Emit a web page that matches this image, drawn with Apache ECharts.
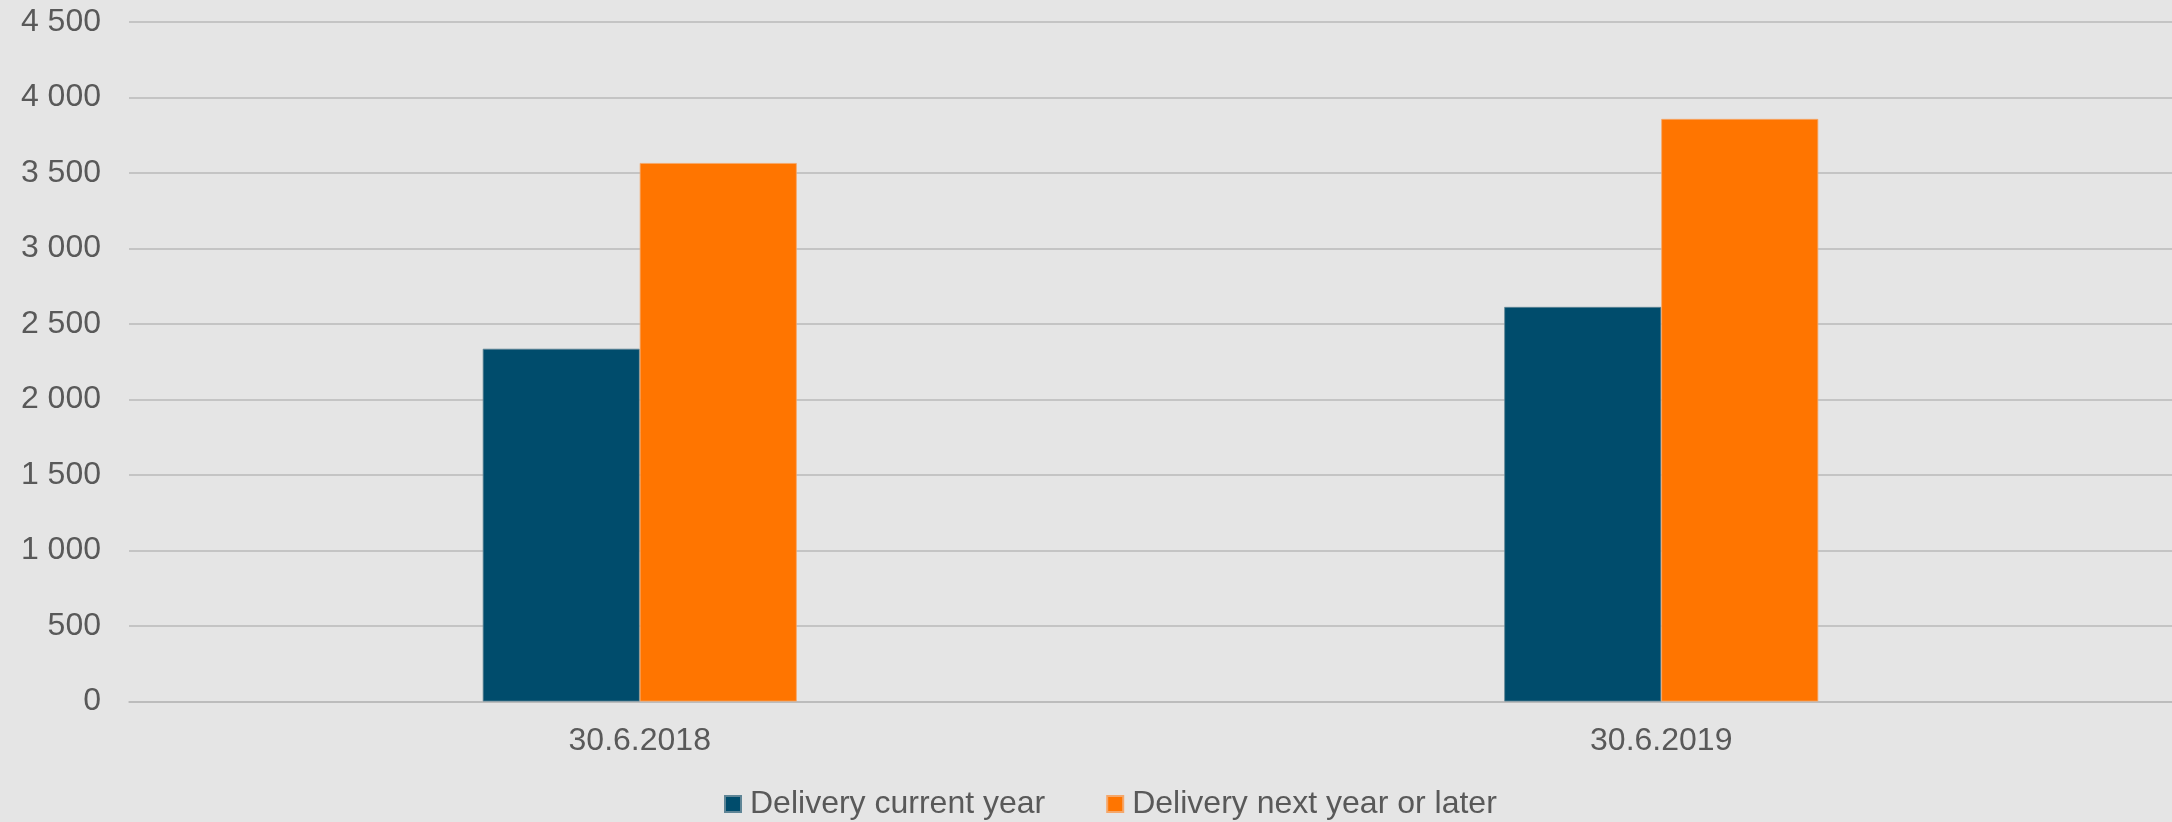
<!DOCTYPE html>
<html>
<head>
<meta charset="utf-8">
<script src="https://cdn.jsdelivr.net/npm/echarts@6/dist/echarts.min.js"></script>
<style>
  html, body { margin: 0; padding: 0; background: #e5e5e5; }
  #order_book_con { width: 2172px; height: 822px; }
</style>
</head>
<body>
<div id="order_book_con"></div>
<script>
// chart data
var categories = ['30.6.2018', '30.6.2019'];
var seriesNames = ['Delivery current year', 'Delivery next year or later'];
var currentYear = [2336, 2613];
var nextYearOrLater = [3566, 3858];
var yTicks = [0, 500, 1000, 1500, 2000, 2500, 3000, 3500, 4000, 4500];

function fmtThousands(v) {
  return String(v).replace(/\B(?=(\d{3})+(?!\d))/g, ' ');
}

var chart = echarts.init(document.getElementById('order_book_con'));

var option = {
  backgroundColor: '#e5e5e5',
  animation: false,
  textStyle: { fontFamily: 'Liberation Sans, Arial, sans-serif', color: '#595959' },
  grid: {
    left: 129,
    right: 0,
    top: 22,
    bottom: 120.5,
    containLabel: false
  },
  legend: {
    bottom: 2,
    left: 724,
    padding: 0,
    itemWidth: 16,
    itemHeight: 16,
    itemGap: 61,
    icon: 'rect',
    textStyle: {
      fontFamily: 'Liberation Sans, Arial, sans-serif',
      fontSize: 32,
      color: '#595959',
      padding: [0, 0, 0, 4]
    },
    data: seriesNames
  },
  xAxis: {
    type: 'category',
    data: categories,
    axisTick: { show: false },
    axisLine: { lineStyle: { color: '#b9b9b9', width: 1.5 } },
    axisLabel: { fontSize: 32, color: '#595959', margin: 24 }
  },
  yAxis: {
    type: 'value',
    min: yTicks[0],
    max: yTicks[yTicks.length - 1],
    interval: 500,
    axisLine: { show: false },
    axisTick: { show: false },
    splitLine: { lineStyle: { color: '#b9b9b9', width: 1.5 } },
    axisLabel: {
      fontSize: 32,
      color: '#595959',
      margin: 28,
      formatter: function (v) { return fmtThousands(v); }
    }
  },
  series: [
    {
      name: seriesNames[0],
      type: 'bar',
      data: currentYear,
      barWidth: 157,
      barGap: '0%',
      itemStyle: { color: '#004c6c', borderColor: '#5f8596', borderWidth: 0.8 }
    },
    {
      name: seriesNames[1],
      type: 'bar',
      data: nextYearOrLater,
      barWidth: 157,
      barGap: '0%',
      itemStyle: { color: '#ff7500', borderColor: '#f5a76a', borderWidth: 0.8 }
    }
  ]
};

chart.setOption(option);
</script>
</body>
</html>
